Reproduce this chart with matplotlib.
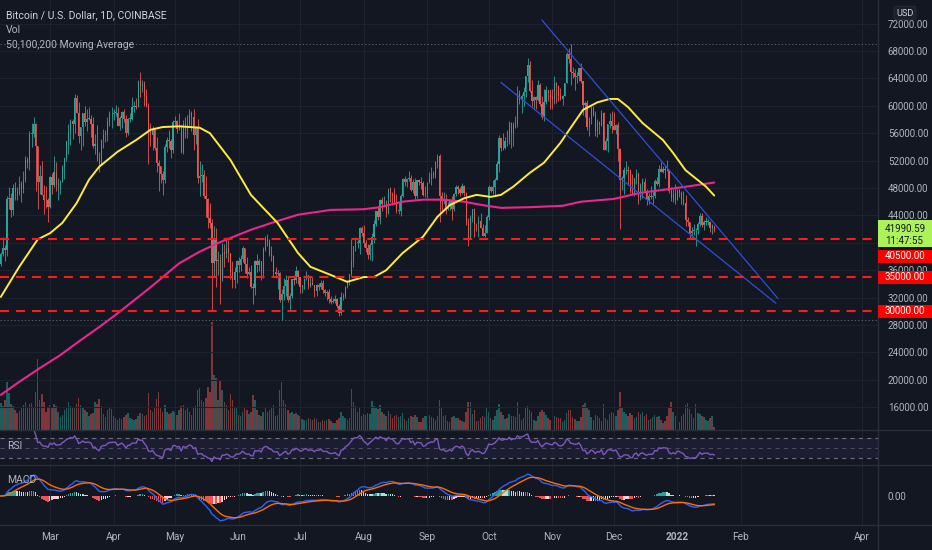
import matplotlib
matplotlib.use("Agg")
import matplotlib.pyplot as plt
import numpy as np
import pandas as pd
from matplotlib.patches import Rectangle
from matplotlib.lines import Line2D

plt.rcParams['font.family'] = ['Roboto', 'DejaVu Sans']
plt.rcParams['lines.scale_dashes'] = False

# ---------------- data (prices in thousands USD) ----------------
start_date = "2021-02-05"
first_open = 36.9
close = [
 # Feb
 38.3,39.3,38.9,46.4,46.5,44.8,48.0,47.4,47.2,48.6,47.9,49.2,52.1,51.6,55.9,55.9,57.4,54.1,48.9,49.7,47.0,46.3,46.2,45.2,
 # Mar
 49.6,48.4,50.4,48.4,48.8,48.9,51.0,52.4,54.9,56.0,57.8,57.3,61.2,59.0,55.6,56.9,58.9,57.7,58.1,58.1,57.4,54.2,54.4,52.3,51.3,55.0,55.8,55.8,57.6,58.8,58.8,
 # Apr
 59.0,59.0,57.1,58.2,59.1,58.0,56.0,58.1,58.1,59.8,59.9,59.8,63.6,62.9,63.2,61.4,60.0,56.2,55.7,56.5,53.8,51.7,51.2,50.1,49.1,54.0,55.0,54.8,53.6,57.7,
 # May
 57.8,56.6,57.2,53.2,57.4,56.4,57.3,58.9,58.3,55.8,56.7,49.5,49.7,49.9,46.8,46.4,43.6,42.9,37.0,40.6,37.3,37.5,34.7,38.7,38.4,39.3,38.5,35.7,34.6,35.7,37.3,
 # Jun
 36.7,37.6,39.2,36.9,35.5,35.8,33.6,33.4,37.4,36.7,37.3,35.6,39.1,40.5,40.2,38.3,38.1,35.8,35.5,35.6,31.6,32.5,33.7,34.6,31.6,32.2,34.7,34.5,35.9,35.0,
 # Jul
 33.5,33.8,34.7,35.3,33.7,34.2,33.8,32.9,33.8,33.5,34.2,33.1,32.7,32.8,31.8,31.4,31.5,31.8,30.8,29.8,32.1,32.3,33.6,34.3,35.4,37.3,39.5,40.0,40.0,42.2,41.5,
 # Aug
 39.9,39.2,38.2,39.7,40.9,42.8,44.6,43.8,46.3,45.6,45.6,44.4,47.8,47.1,47.0,45.9,44.7,44.7,46.8,49.3,48.9,49.3,49.5,47.7,48.9,46.9,49.1,48.9,48.8,47.0,47.1,
 # Sep
 48.8,49.3,50.0,49.9,51.8,52.7,46.9,46.1,46.4,44.9,45.2,46.1,44.9,47.1,48.1,47.8,47.3,48.3,47.3,43.0,40.7,43.6,44.9,42.8,42.7,43.2,42.2,41.0,41.5,43.8,
 # Oct
 48.1,47.6,48.2,49.2,51.5,55.3,53.8,53.9,54.9,54.7,57.5,56.0,57.4,57.3,61.7,60.9,61.5,62.0,64.3,66.0,62.2,60.7,61.3,60.9,63.1,60.3,58.4,60.6,62.3,61.9,61.3,
 # Nov
 61.0,63.3,62.9,61.4,61.0,61.5,63.3,67.5,66.9,64.9,64.8,64.2,64.4,65.5,63.6,60.1,60.4,56.9,58.1,59.7,58.7,56.3,57.6,57.2,58.9,53.6,54.8,57.3,57.8,57.0,
 # Dec
 56.5,57.2,53.7,49.2,49.4,50.6,50.6,50.5,47.6,47.1,49.4,50.1,46.7,48.4,48.9,47.6,46.2,46.9,46.7,46.9,49.0,48.6,50.8,50.4,50.8,50.7,50.6,47.5,46.5,47.1,46.2,
 # Jan 2022
 47.7,47.3,46.4,45.8,43.4,43.1,41.5,41.7,41.8,41.8,42.7,43.9,42.6,43.1,43.1,43.1,42.2,42.4,41.99059,
]
high = [
 38.7,40.9,39.7,46.8,48.2,47.3,48.6,48.9,48.1,49.7,49.0,50.5,52.6,52.5,56.3,57.5,58.3,57.5,54.2,51.4,52.0,48.4,48.3,46.6,
 49.8,50.2,52.6,51.8,49.4,49.2,51.4,52.4,54.9,57.4,58.1,58.0,61.7,61.6,60.6,56.9,58.9,60.0,59.5,59.8,58.6,58.4,55.9,57.2,53.2,55.1,56.6,56.5,58.4,59.3,59.8,
 59.5,60.1,59.8,58.5,59.3,59.5,58.7,58.2,58.9,61.3,60.7,61.2,63.8,64.9,63.8,63.6,62.5,60.4,57.5,57.1,56.8,55.5,52.1,51.2,50.5,54.4,55.5,56.4,55.2,57.9,
 58.5,57.9,58.9,57.2,57.9,58.4,58.6,59.5,59.2,59.6,57.0,58.0,52.0,51.5,50.7,49.7,46.6,45.8,43.5,42.5,42.2,38.8,38.3,39.9,39.8,40.8,40.4,38.2,37.3,36.5,37.5,
 37.9,38.2,39.5,39.3,37.9,36.4,36.8,34.1,37.5,38.4,37.7,37.4,39.4,41.0,41.3,40.5,39.6,38.2,36.4,36.1,35.7,33.3,34.8,35.3,35.0,32.7,34.7,35.3,36.6,36.0,
 35.0,33.9,34.9,35.9,35.3,35.1,35.0,33.9,34.0,34.2,34.6,34.6,33.3,33.1,33.2,32.2,31.9,32.4,31.9,31.1,32.8,32.6,33.7,34.5,35.4,40.6,39.5,40.9,40.6,42.3,42.4,
 42.6,40.4,39.8,39.9,41.4,43.4,44.7,45.3,46.4,46.7,46.8,46.2,47.9,48.1,47.4,48.0,47.1,46.0,47.1,49.4,49.8,49.5,50.5,49.9,49.3,49.4,49.2,49.3,49.6,49.0,48.3,
 48.9,50.4,51.0,50.5,51.9,52.9,52.9,47.4,47.4,47.1,45.9,46.4,46.9,47.3,48.5,48.5,48.2,48.8,48.4,47.4,43.6,44.0,44.9,45.1,42.9,43.9,44.3,42.8,42.6,44.1,
 48.5,48.3,49.2,49.5,51.9,55.8,55.3,56.1,55.5,56.5,57.8,57.7,57.7,58.5,62.9,62.3,61.7,62.7,64.4,67.0,66.6,63.7,61.5,61.5,63.7,63.3,61.5,62.5,62.9,62.3,62.4,
 62.4,64.3,63.5,63.1,62.6,61.6,63.3,67.8,68.5,69.0,65.6,65.4,65.0,65.5,66.3,63.6,60.7,60.9,58.4,59.9,60.0,59.3,58.0,57.8,59.4,59.1,55.3,57.4,58.9,59.2,
 59.1,57.4,57.6,53.9,49.7,51.0,51.9,51.2,50.8,50.1,49.5,50.8,50.3,48.7,49.5,49.4,47.9,47.3,48.3,47.5,49.3,49.6,51.4,51.8,51.2,51.3,52.1,50.7,48.2,47.9,48.6,
 47.9,47.9,47.6,47.5,47.0,43.7,43.1,42.3,42.8,42.2,43.0,44.3,44.4,43.4,43.8,43.5,43.2,42.7,42.5,
]
low = [
 36.6,38.1,37.4,38.1,45.0,43.7,44.0,46.3,46.2,47.0,46.0,47.2,48.9,50.9,50.7,54.0,55.5,47.6,45.0,47.1,47.0,44.2,45.1,43.0,
 45.1,47.1,48.1,47.5,46.3,47.1,48.9,49.3,51.9,53.0,54.3,55.1,56.1,59.0,54.6,53.5,54.2,57.0,56.3,57.9,55.5,53.8,53.0,52.0,50.4,51.3,53.9,54.7,54.9,57.1,56.8,
 57.9,58.5,57.0,56.5,56.8,57.6,55.5,55.7,57.7,57.9,59.1,59.5,59.9,61.3,62.0,60.0,59.8,51.5,54.2,53.5,53.6,50.4,47.5,48.8,47.0,48.8,53.3,53.9,52.4,53.1,
 57.1,56.0,56.5,53.1,52.9,55.3,55.3,56.9,56.3,53.6,54.4,48.8,46.9,48.9,46.6,43.8,42.1,42.2,30.0,35.0,33.5,35.3,31.1,34.4,36.4,37.8,37.2,34.7,33.4,33.4,34.2,
 35.7,35.9,37.2,35.6,34.8,35.3,33.4,31.0,32.4,35.8,35.9,34.6,34.8,38.8,39.5,38.1,37.4,35.2,34.9,33.3,31.3,28.8,31.7,32.3,31.3,30.2,32.0,33.9,34.2,34.0,
 32.7,32.7,33.3,34.6,33.2,33.5,33.8,32.1,32.3,33.1,33.3,32.7,32.2,31.6,31.2,31.0,31.2,31.2,30.5,29.3,29.5,31.7,32.0,33.4,33.9,35.2,36.4,38.8,39.3,38.3,41.0,
 39.4,38.7,37.6,37.5,37.3,39.9,42.5,43.3,42.8,44.7,45.4,43.8,44.2,45.9,45.5,45.6,44.4,44.2,43.9,46.7,48.3,48.1,49.0,47.6,47.2,46.4,46.6,48.4,47.8,46.9,46.7,
 46.6,48.7,48.4,49.5,49.5,50.9,43.0,44.5,45.6,44.2,44.8,44.8,43.4,44.7,46.8,47.1,46.8,47.1,46.9,42.6,39.6,40.6,43.1,40.9,41.7,40.8,42.1,41.0,40.8,41.4,
 43.3,47.4,47.1,46.9,49.1,50.4,53.4,53.6,53.7,54.1,54.4,53.9,54.2,56.8,56.9,60.2,58.9,60.0,61.3,63.5,62.0,60.0,59.7,59.5,60.7,59.9,58.0,57.8,60.2,60.7,59.5,
 59.5,60.2,60.4,60.7,60.8,60.1,61.4,63.3,66.2,63.0,64.1,62.3,63.4,63.6,63.4,58.6,58.4,56.5,55.6,57.4,58.5,55.6,55.4,55.9,57.0,53.5,53.6,53.3,56.7,56.0,
 56.5,55.9,52.0,42.0,47.7,47.1,50.1,48.6,47.3,47.0,46.9,48.6,45.7,46.3,46.6,47.5,45.5,45.6,46.4,45.6,46.6,48.4,48.1,50.4,50.2,49.5,50.5,47.3,46.1,45.9,45.7,
 46.2,46.7,45.7,45.5,42.5,42.5,40.6,40.5,41.2,39.6,41.3,42.5,42.3,41.8,42.6,42.6,41.6,41.3,41.6,
]
# volume, thousand BTC
volume = [
 27,24,30,48,37,26,24,20,17,19,22,25,28,23,26,27,22,38,71,30,36,28,18,23,
 25,22,26,24,18,13,15,20,23,28,24,22,22,26,32,25,22,20,18,14,16,17,28,26,31,24,16,13,20,22,21,
 14,12,10,12,11,13,15,17,12,11,10,11,14,17,16,14,15,37,20,18,22,31,38,22,18,25,18,16,17,19,
 18,15,20,24,25,20,22,18,15,22,24,40,42,30,28,32,43,38,108,55,52,30,50,40,28,25,20,36,30,22,22,
 15,14,18,22,20,16,18,35,30,20,15,14,18,22,18,20,23,25,14,15,40,48,30,26,20,17,18,16,17,15,
 14,11,10,10,12,11,10,12,11,8,8,10,9,10,11,9,7,7,10,12,18,14,12,10,12,41,28,24,18,22,14,
 16,15,17,16,29,24,22,21,25,18,16,14,19,16,12,14,15,13,14,17,11,9,12,14,13,15,13,8,8,12,14,
 14,15,13,12,10,14,30,22,14,15,9,8,13,14,12,12,10,9,8,18,28,28,16,20,9,9,12,14,13,22,
 18,12,10,14,20,26,18,15,11,12,16,14,14,13,28,16,10,12,22,24,20,18,10,9,14,18,20,18,15,12,10,
 12,14,13,12,12,8,10,17,20,20,13,11,9,9,13,25,27,22,20,13,10,15,14,12,9,26,12,10,16,18,
 17,14,20,38,23,18,16,14,17,15,12,13,18,16,18,14,16,10,11,13,15,13,14,10,7,9,14,23,28,18,14,
 12,8,14,16,25,27,21,16,12,26,17,16,14,13,10,9,12,14,3,
]

# 50-day moving average, thousands
ma50_dates = ["2021-02-05","2021-02-14","2021-02-23","2021-03-01","2021-03-07","2021-03-14","2021-03-20",
              "2021-03-25","2021-04-03","2021-04-12","2021-04-19","2021-04-25","2021-05-03","2021-05-13",
              "2021-05-18","2021-05-28","2021-06-07","2021-06-13","2021-06-20","2021-06-30","2021-07-06",
              "2021-07-16","2021-07-24","2021-08-01","2021-08-06","2021-08-12","2021-08-20","2021-08-30",
              "2021-09-06","2021-09-12","2021-09-19","2021-09-25","2021-10-02","2021-10-07","2021-10-13",
              "2021-10-21","2021-10-28","2021-11-05","2021-11-10","2021-11-16","2021-11-23","2021-11-29",
              "2021-12-03","2021-12-08","2021-12-15","2021-12-25","2021-12-30","2022-01-05","2022-01-15",
              "2022-01-19"]
ma50_vals = [32.1,36.5,40.5,41.4,42.9,45.8,49.2,51.1,53.3,55.0,56.5,56.9,57.0,56.8,56.0,52.1,47.0,45.1,42.9,
             38.5,36.5,35.3,34.3,35.0,35.0,36.0,38.5,40.9,43.8,45.5,46.5,47.0,46.7,47.0,48.2,50.2,51.7,
             54.6,56.8,59.4,60.5,61.0,61.0,59.8,57.5,55.0,53.1,50.6,48.2,46.9]
# 200-day moving average, thousands
ma200_dates = ["2021-02-05","2021-02-14","2021-02-24","2021-03-06","2021-03-16","2021-03-25","2021-04-03",
               "2021-04-11","2021-04-19","2021-05-03","2021-05-13","2021-05-23","2021-06-07","2021-06-18",
               "2021-06-30","2021-07-16","2021-08-01","2021-08-09","2021-08-20","2021-08-30","2021-09-09",
               "2021-09-19","2021-09-28","2021-10-07","2021-10-21","2021-11-06","2021-11-15","2021-12-01",
               "2021-12-14","2021-12-27","2022-01-10","2022-01-19"]
ma200_vals = [17.8,19.7,21.7,23.6,25.8,27.7,29.7,31.6,33.5,37.0,38.7,40.1,41.9,43.0,44.1,44.8,44.9,45.2,
              46.0,46.3,46.3,46.0,45.5,45.1,45.2,45.4,46.0,46.4,47.3,47.8,48.4,48.8]

# trend lines (channel): (start date, start price, end date, end price), thousands
trend_lines = [("2021-10-27", 72.5, "2022-02-19", 31.9),
               ("2021-10-07", 63.4, "2022-02-18", 31.2)]
# support levels
support_levels = [40.5, 35.0, 30.0]
range_high, range_low = 69.0, 28.8
last_price_label, countdown = "41990.59", "11:47:55"

month_ticks = ["2021-03-01","2021-04-01","2021-05-01","2021-06-01","2021-07-01","2021-08-01","2021-09-01",
               "2021-10-01","2021-11-01","2021-12-01","2022-01-01","2022-02-01","2022-04-01"]
month_labels = ["Mar","Apr","May","Jun","Jul","Aug","Sep","Oct","Nov","Dec","2022","Feb","Apr"]
price_ticks = list(range(16000, 72001, 4000))
hidden_price_ticks = [40000]   # covered by the last-price tag in the original

# ---------------- styling ----------------
BG = "#131722"
GRID = "#1e2230"
SEP = "#2a2e39"
TXT = "#b2b5be"
UP, DN = "#26a69a", "#ef5350"
FS_AX = 7.0
FS_LEG = 7.5

t0 = pd.Timestamp(start_date)
def dx(s):
    return (pd.Timestamp(s) - t0).days

c = np.array(close) * 1000
o = np.concatenate([[first_open], close[:-1]]) * 1000
h = np.maximum(np.array(high) * 1000, np.maximum(o, c))
l = np.minimum(np.array(low) * 1000, np.minimum(o, c))
v = np.array(volume, dtype=float)
n = len(c)
x = np.arange(n)
up = c >= o
cols = np.where(up, UP, DN)

W, H = 932, 550
fig = plt.figure(figsize=(W / 100, H / 100), dpi=100, facecolor=BG)

def fax(x0, y0, x1, y1, **kw):
    return fig.add_axes([x0 / W, 1 - y1 / H, (x1 - x0) / W, (y1 - y0) / H], **kw)

XR = 878
ax = fax(0, 0, XR, 430, label="price")
axv = fax(0, 0, XR, 430, label="vol", sharex=ax)
ax_rsi = fax(0, 430, XR, 465, label="rsi", sharex=ax)
ax_macd = fax(0, 465, XR, 525, label="macd", sharex=ax)

ax.set_zorder(2); axv.set_zorder(1)
ax.patch.set_visible(False)
for a in (axv, ax_rsi, ax_macd):
    a.set_facecolor(BG)
for a in (ax, axv, ax_rsi, ax_macd):
    for s in a.spines.values():
        s.set_visible(False)

xlim = (-0.39, 427.9)
ax.set_xlim(*xlim)
ax.set_ylim(12672, 75445)

tick_x = [dx(t) for t in month_ticks]
for a in (ax, ax_rsi, ax_macd):
    a.set_xticks(tick_x)
    a.tick_params(axis='x', length=0, labelbottom=False)
    a.grid(True, axis='x', color=GRID, lw=0.8)
ax_macd.tick_params(axis='x', labelbottom=True, pad=5, labelsize=7.3, labelcolor=TXT)
ax_macd.set_xticklabels(month_labels)
for lab in ax_macd.get_xticklabels():
    if lab.get_text() == "2022":
        lab.set_fontweight("bold")

# price axis on the right
ax.yaxis.tick_right()
ax.set_yticks(price_ticks)
ax.set_yticklabels(["" if p in hidden_price_ticks else f"{p:.2f}" for p in price_ticks])
ax.tick_params(axis='y', length=0, pad=7, labelsize=FS_AX, labelcolor=TXT)
ax.grid(True, axis='y', color=GRID, lw=0.8)
axv.axis('off')

# volume
axv.set_ylim(0, 430)
axv.bar(x, v, width=0.7, color=cols, alpha=0.5, lw=0)

# candles
ax.vlines(x, l, h, colors=cols, lw=0.6, zorder=3)
ax.bar(x, np.maximum(np.abs(c - o), 60), bottom=np.minimum(o, c), width=0.62, color=cols, lw=0, zorder=4)

# moving averages
ax.plot([dx(d) for d in ma200_dates], np.array(ma200_vals) * 1000, color="#ec268f", lw=1.5, zorder=5,
        solid_capstyle='round')
ax.plot([dx(d) for d in ma50_dates], np.array(ma50_vals) * 1000, color="#ffeb3b", lw=1.4, zorder=5,
        solid_capstyle='round')

# trend lines
for d0, p0, d1, p1 in trend_lines:
    ax.plot([dx(d0), dx(d1)], [p0 * 1000, p1 * 1000], color="#2e4fd8", lw=0.9, zorder=6)

# support levels and range lines
for p in support_levels:
    ax.axhline(p * 1000, color="#ff1a1a", lw=1.5, dashes=(6.5, 5.0), zorder=6)
for p in (range_high, range_low):
    ax.axhline(p * 1000, color="#787b86", lw=0.6, dashes=(1, 1.5), alpha=0.8, zorder=2)

# ---------------- RSI ----------------
cs = pd.Series(c)
delta = cs.diff()
gain = delta.clip(lower=0)
loss = (-delta).clip(lower=0)
ag = gain.ewm(alpha=1 / 14, adjust=False).mean()
al = loss.ewm(alpha=1 / 14, adjust=False).mean()
rsi = 100 - 100 / (1 + ag / al)
ax_rsi.set_ylim(16, 86)
ax_rsi.axhspan(30, 70, color="#7e57c2", alpha=0.1, lw=0)
for lv, al_ in ((70, 0.9), (50, 0.5), (30, 0.9)):
    ax_rsi.axhline(lv, color="#787b86", lw=0.8, dashes=(3, 3), alpha=al_)
ax_rsi.plot(x[1:], rsi.values[1:], color="#7e57c2", lw=1.0)
ax_rsi.set_yticks([])
ax_rsi.text(7 / XR, 0.55, "RSI", transform=ax_rsi.transAxes, color=TXT, fontsize=FS_LEG, va='center')

# ---------------- MACD ----------------
ema12 = cs.ewm(span=12, adjust=False).mean()
ema26 = cs.ewm(span=26, adjust=False).mean()
macd = ema12 - ema26
sig = macd.ewm(span=9, adjust=False).mean()
hist = (macd - sig).values
prev = np.concatenate([[0], hist[:-1]])
hcol = np.where(hist >= 0, np.where(hist > prev, "#26a69a", "#b2dfdb"),
                np.where(hist > prev, "#ffcdd2", "#ef5350"))
ax_macd.set_ylim(-5900, 6300)
ax_macd.bar(x, hist, width=0.7, color=hcol, lw=0)
ax_macd.plot(x, macd.values, color="#2962ff", lw=1.0)
ax_macd.plot(x, sig.values, color="#ff6d00", lw=1.0)
ax_macd.yaxis.tick_right()
ax_macd.set_yticks([0])
ax_macd.set_yticklabels(["0.00"])
ax_macd.tick_params(axis='y', length=0, pad=7, labelsize=FS_AX, labelcolor=TXT)
ax_macd.text(7 / XR, 0.75, "MACD", transform=ax_macd.transAxes, color=TXT, fontsize=FS_LEG, va='center')

# ---------------- separators ----------------
for yy in (430, 465, 525):
    fig.add_artist(Line2D([0, 1], [1 - yy / H] * 2, transform=fig.transFigure, color=SEP, lw=1))
fig.add_artist(Line2D([XR / W] * 2, [0, 1], transform=fig.transFigure, color=SEP, lw=1))

# ---------------- legend texts ----------------
fig.text(6 / W, 1 - 15 / H, "Bitcoin / U.S. Dollar, 1D, COINBASE", color="#d1d4dc", fontsize=FS_LEG, va='center')
fig.text(6 / W, 1 - 30 / H, "Vol", color=TXT, fontsize=FS_LEG, va='center')
fig.text(6 / W, 1 - 44.5 / H, "50,100,200 Moving Average", color=TXT, fontsize=FS_LEG, va='center')

# USD badge
fig.text(905 / W, 1 - 13 / H, "USD", color="#d1d4dc", fontsize=6.6, ha='center', va='center',
         bbox=dict(boxstyle="round,pad=0.25", fc="#1c202b", ec="#2a2e39", lw=0.6), zorder=10)

# ---------------- price tags on the scale ----------------
fig.canvas.draw()
def ypix(price):
    # display y (origin bottom) of a price
    return ax.transData.transform((0, price))[1]

def tag(price, texts, fc, tc, shift_px=0.0, hgt=13.0, row=12.0):
    yc = ypix(price) - shift_px
    top = yc + 6.5 + (0 if len(texts) == 1 else 2.5)
    bottom = top - hgt
    fig.patches.append(Rectangle((XR / W, bottom / H), (W - XR) / W, hgt / H,
                                 transform=fig.transFigure, fc=fc, ec='none', zorder=9))
    for i, t in enumerate(texts):
        ty = top - 6.5 - (2.5 if len(texts) > 1 else 0) - i * row
        fig.text((XR + 7) / W, ty / H, t, color=tc, fontsize=FS_AX, va='center', zorder=11)

tag(float(last_price_label), [last_price_label, countdown], "#aef25a", "#131722", hgt=27.0)
tag(support_levels[0] * 1000, [f"{support_levels[0]*1000:.2f}"], "#ff0000", "white", shift_px=17.0)
tag(support_levels[1] * 1000, [f"{support_levels[1]*1000:.2f}"], "#ff0000", "white")
tag(support_levels[2] * 1000, [f"{support_levels[2]*1000:.2f}"], "#ff0000", "white")

fig.savefig("out.png", dpi=100, facecolor=BG)
